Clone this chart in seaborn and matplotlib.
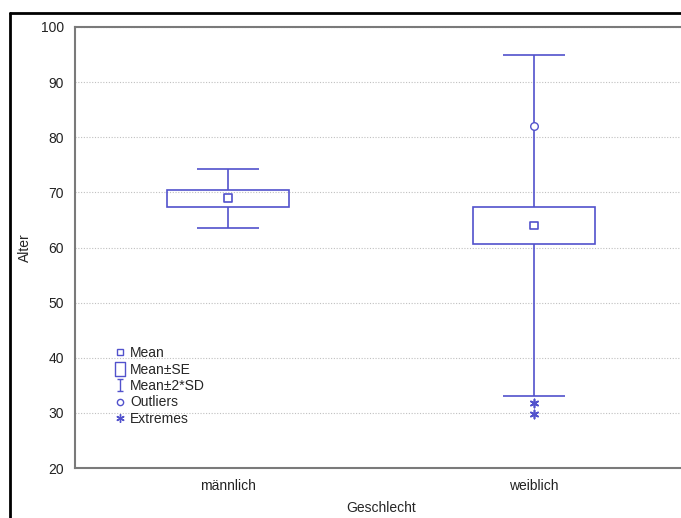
import numpy as np
import pandas as pd
import matplotlib
matplotlib.use("Agg")
import matplotlib.pyplot as plt
from matplotlib.lines import Line2D
from matplotlib.path import Path
import seaborn as sns

# ---- data ----
categories = ["männlich", "weiblich"]
means = [68.95, 64.0]
se_low = [67.4, 60.6]
se_high = [70.5, 67.4]
sd2_low = [63.6, 33.1]
sd2_high = [74.3, 95.0]
outlier_cat = ["weiblich"]
outlier_val = [82.0]
extreme_cat = ["weiblich", "weiblich"]
extreme_val = [31.85, 29.85]
yticks = [20, 30, 40, 50, 60, 70, 80, 90, 100]
legend_labels = ["Mean", "Mean±SE", "Mean±2*SD", "Outliers", "Extremes"]

sns.set_style("white")
plt.rcParams["font.family"] = ["Liberation Sans", "DejaVu Sans"]

col = "#5252cc"
pos = {c: i for i, c in enumerate(categories)}
x = np.arange(len(categories))

fig = plt.figure(figsize=(6.81, 5.18), dpi=100)
ax = fig.add_axes([75 / 681, 50 / 518, 612 / 681, 441 / 518])

# boxes (mean ± SE)
ax.bar(x, np.array(se_high) - np.array(se_low), bottom=se_low, width=0.4,
       fill=False, edgecolor=col, linewidth=1.2, zorder=3)
# whiskers (mean ± 2*SD)
ax.vlines(x, sd2_low, se_low, color=col, lw=1.2, zorder=3)
ax.vlines(x, se_high, sd2_high, color=col, lw=1.2, zorder=3)
ax.hlines(sd2_low, x - 0.1, x + 0.1, color=col, lw=1.2, zorder=3)
ax.hlines(sd2_high, x - 0.1, x + 0.1, color=col, lw=1.2, zorder=3)

df_mean = pd.DataFrame({"x": x, "y": means})
sns.scatterplot(data=df_mean, x="x", y="y", marker="s", s=30, facecolor="none",
                edgecolor=col, linewidth=1.2, ax=ax, zorder=4)
df_out = pd.DataFrame({"x": [pos[c] for c in outlier_cat], "y": outlier_val})
sns.scatterplot(data=df_out, x="x", y="y", marker="o", s=30, facecolor="white",
                edgecolor=col, linewidth=1.0, ax=ax, zorder=4)
df_ext = pd.DataFrame({"x": [pos[c] for c in extreme_cat], "y": extreme_val})
sns.scatterplot(data=df_ext, x="x", y="y", marker=(6, 2, 0), s=35, color=col,
                linewidth=1.2, ax=ax, zorder=4)

ax.set_xlim(-0.5, 1.5)
ax.set_ylim(20, 100)
ax.set_yticks(yticks)
ax.set_xticks(x)
ax.set_xticklabels(categories)
ax.set_xlabel("Geschlecht", fontsize=10, labelpad=6)
ax.set_ylabel("Alter", fontsize=10)
ax.yaxis.set_label_coords(-43 / 612, 0.5)
ax.tick_params(axis="both", labelsize=10, colors="#222222", length=3,
               direction="in", width=1, pad=8)
ax.tick_params(axis="both", color="#808080")
ax.yaxis.grid(True, linestyle=(0, (1, 1.5)), color="#c0c0c0", lw=0.8)
ax.set_axisbelow(True)
for s in ax.spines.values():
    s.set_color("#7a7a7a")
    s.set_linewidth(1.5)

# legend
ibeam = Path([(-0.5, 1), (0.5, 1), (0, 1), (0, -1), (-0.5, -1), (0.5, -1)],
             [Path.MOVETO, Path.LINETO, Path.MOVETO, Path.LINETO, Path.MOVETO, Path.LINETO])
rect = Path([(-0.35, -0.5), (0.35, -0.5), (0.35, 0.5), (-0.35, 0.5), (-0.35, -0.5)],
            [Path.MOVETO, Path.LINETO, Path.LINETO, Path.LINETO, Path.CLOSEPOLY])
handles = [
    Line2D([], [], ls="none", marker="s", ms=4.5, mfc="none", mec=col, mew=1),
    Line2D([], [], ls="none", marker=rect, ms=10, mfc="none", mec=col, mew=1),
    Line2D([], [], ls="none", marker=ibeam, ms=9, mfc="none", mec=col, mew=1),
    Line2D([], [], ls="none", marker="o", ms=4.5, mfc="none", mec=col, mew=1),
    Line2D([], [], ls="none", marker=(6, 2, 0), ms=6, mec=col, mew=1),
]
ax.legend(handles, legend_labels, loc="lower left",
          bbox_to_anchor=(39 / 612, 42 / 441), frameon=False, fontsize=10,
          handlelength=0.8, handletextpad=0.35, labelspacing=0.18,
          borderaxespad=0, borderpad=0)

# outer black frame (left and top)
fig.add_artist(Line2D([10 / 681, 10 / 681], [0, 1 - 13 / 518], transform=fig.transFigure,
                      color="black", lw=2))
fig.add_artist(Line2D([10 / 681, 1], [1 - 13 / 518, 1 - 13 / 518], transform=fig.transFigure,
                      color="black", lw=2))

fig.savefig("out.png", dpi=100)
